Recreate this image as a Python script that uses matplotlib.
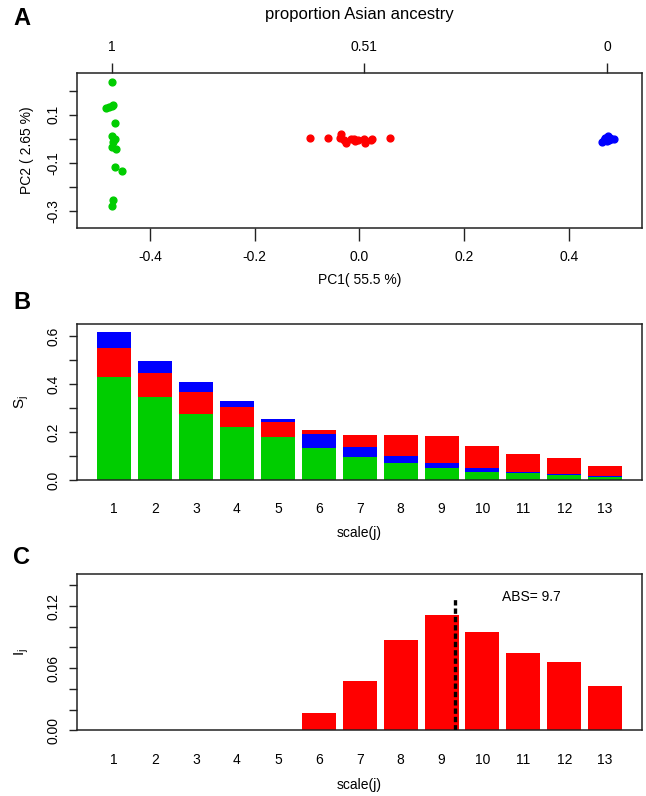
import numpy as np
import matplotlib
matplotlib.use("Agg")
import matplotlib.pyplot as plt

plt.rcParams['font.family'] = ['Liberation Sans', 'DejaVu Sans']
plt.rcParams['mathtext.default'] = 'regular'

# ---- Panel A: PCA coordinates ----
green_pc1 = [-0.472, -0.483, -0.478, -0.473, -0.471, -0.467, -0.473, -0.467,
             -0.470, -0.473, -0.465, -0.466, -0.454, -0.471, -0.472]
green_pc2 = [0.235, 0.130, 0.132, 0.135, 0.140, 0.064, 0.010, 0.000,
             -0.012, -0.033, -0.044, -0.118, -0.136, -0.256, -0.281]
red_pc1 = [-0.094, -0.061, -0.036, -0.038, -0.030, -0.025, -0.017, -0.011,
           -0.008, 0.008, 0.010, 0.021, 0.024, 0.059, -0.002]
red_pc2 = [0.003, 0.003, 0.018, 0.002, -0.005, -0.016, -0.003, -0.002,
           -0.010, -0.002, -0.018, -0.004, 0.000, 0.003, -0.006]
blue_pc1 = [0.463, 0.467, 0.470, 0.474, 0.478, 0.480, 0.485, 0.472, 0.476, 0.468]
blue_pc2 = [-0.015, -0.005, 0.005, 0.010, 0.005, -0.002, -0.002, -0.008, -0.004, 0.002]

top_tick_pos = [-0.473, 0.009, 0.473]
top_tick_labels = ["1", "0.51", "0"]

# ---- Panel B: stacked S_j per scale ----
scales = list(range(1, 14))
s_green = [0.430, 0.346, 0.276, 0.222, 0.179, 0.135, 0.098, 0.070, 0.052, 0.034, 0.028, 0.020, 0.013]
s_red = [0.120, 0.101, 0.092, 0.082, 0.065, 0.017, 0.048, 0.086, 0.111, 0.095, 0.075, 0.067, 0.042]
s_blue = [0.067, 0.050, 0.040, 0.025, 0.010, 0.056, 0.040, 0.031, 0.021, 0.015, 0.007, 0.006, 0.004]
blue_below_red = [False] * 5 + [True] * 8   # stacking order flips from scale 6

# ---- Panel C: I_j per scale ----
i_values = [0, 0, 0, 0, 0, 0.0167, 0.0473, 0.0869, 0.1116, 0.0949, 0.0750, 0.0663, 0.0425]
abs_value = 9.7
abs_line_pos = 9.34
abs_line_top = 0.129

GREEN = '#00CD00'
RED = '#FF0000'
BLUE = '#0000FF'

fig = plt.figure(figsize=(6.46, 7.96), dpi=100)
left, width = 0.1192, 0.8746
axA = fig.add_axes([left, 0.7136, width, 0.1947])
axB = fig.add_axes([left, 0.3970, width, 0.1960])
axC = fig.add_axes([left, 0.0825, width, 0.1960])


def style_axes(ax):
    for sp in ax.spines.values():
        sp.set_linewidth(1.1)
        sp.set_color('#222222')
    ax.tick_params(axis='both', labelsize=10, width=1.0, color='#222222')
    ax.tick_params(axis='y', length=6, pad=6, labelrotation=90)


# Panel A
style_axes(axA)
axA.scatter(green_pc1, green_pc2, s=24, color=GREEN, zorder=3)
axA.scatter(red_pc1, red_pc2, s=24, color=RED, zorder=3)
axA.scatter(blue_pc1, blue_pc2, s=24, color=BLUE, zorder=3)
axA.set_xlim(-0.539, 0.539)
axA.set_ylim(-0.372, 0.274)
axA.set_xticks([-0.4, -0.2, 0.0, 0.2, 0.4])
axA.set_xticklabels(['-0.4', '-0.2', '0.0', '0.2', '0.4'])
axA.set_yticks([-0.3, -0.2, -0.1, 0.0, 0.1, 0.2])
axA.set_yticklabels(['-0.3', '', '-0.1', '', '0.1', ''])
axA.tick_params(axis='x', length=9, pad=7)
for lab in axA.get_yticklabels():
    lab.set_va('center')
axA.set_xlabel('PC1( 55.5 %)', fontsize=10, labelpad=6)
axA.set_ylabel('PC2 ( 2.65 %)', fontsize=10, labelpad=9)

top = axA.twiny()
top.set_xlim(axA.get_xlim())
top.set_xticks(top_tick_pos)
top.set_xticklabels(top_tick_labels)
top.tick_params(axis='x', labelsize=10, length=7, pad=7, width=1.0, color='#222222')
top.set_xlabel('proportion Asian ancestry', fontsize=12, labelpad=15)
for sp in top.spines.values():
    sp.set_visible(False)

# Panel B
style_axes(axB)
g = np.array(s_green)
r = np.array(s_red)
b = np.array(s_blue)
flip = np.array(blue_below_red)
red_bottom = np.where(flip, g + b, g)
blue_bottom = np.where(flip, g, g + r)
bw = 0.83
axB.bar(scales, g, width=bw, color=GREEN, linewidth=0)
axB.bar(scales, r, bottom=red_bottom, width=bw, color=RED, linewidth=0)
axB.bar(scales, b, bottom=blue_bottom, width=bw, color=BLUE, linewidth=0)
axB.set_xlim(0.09, 13.9)
axB.set_ylim(0, 0.652)
axB.set_yticks([0, 0.1, 0.2, 0.3, 0.4, 0.5, 0.6])
axB.set_yticklabels(['0.0', '', '0.2', '', '0.4', '', '0.6'])
for lab in axB.get_yticklabels():
    lab.set_va('center')
axB.set_xticks(scales)
axB.set_xticklabels([str(s) for s in scales])
axB.tick_params(axis='x', length=0, pad=16)
axB.set_xlabel('scale(j)', fontsize=10, labelpad=7)
axB.set_ylabel(r'$S_j$', fontsize=11, labelpad=11)

# Panel C
style_axes(axC)
axC.bar(scales, i_values, width=bw, color=RED, linewidth=0)
axC.vlines(abs_line_pos, 0, abs_line_top, colors='black', linewidth=2.4,
           linestyles=(0, (1.6, 0.9)), zorder=4)
axC.text(abs_line_pos + 1.13, abs_line_top, 'ABS= %s' % abs_value,
         fontsize=10, ha='left', va='center')
axC.set_xlim(0.09, 13.9)
axC.set_ylim(0, 0.1506)
axC.set_yticks([0, 0.02, 0.04, 0.06, 0.08, 0.10, 0.12, 0.14])
axC.set_yticklabels(['0.00', '', '', '0.06', '', '', '0.12', ''])
for lab in axC.get_yticklabels():
    lab.set_va('center')
axC.set_xticks(scales)
axC.set_xticklabels([str(s) for s in scales])
axC.tick_params(axis='x', length=0, pad=16)
axC.set_xlabel('scale(j)', fontsize=10, labelpad=8)
axC.set_ylabel(r'$I_j$', fontsize=11, labelpad=11)

# panel letters
fig.text(0.034, 0.977, 'A', fontsize=17, fontweight='bold', ha='center', va='center')
fig.text(0.034, 0.620, 'B', fontsize=17, fontweight='bold', ha='center', va='center')
fig.text(0.034, 0.299, 'C', fontsize=17, fontweight='bold', ha='center', va='center')

plt.savefig('out.png', dpi=100)
plt.close()
